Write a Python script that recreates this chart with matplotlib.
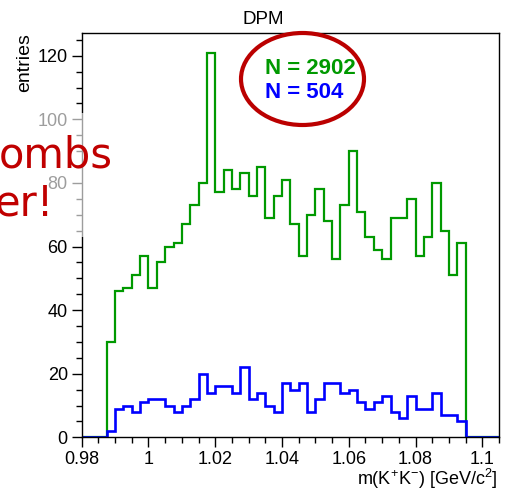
import numpy as np
import matplotlib
matplotlib.use("Agg")
import matplotlib.pyplot as plt
from matplotlib.patches import Ellipse, Rectangle

# ---- data ----
bin_lo = 0.98
bin_hi = 1.105
n_bins = 50
green_counts = [0, 0, 0, 30, 46, 47, 51, 57, 47, 55, 60, 61, 67, 73, 80, 121, 77, 84,
                78, 83, 76, 85, 69, 76, 81, 67, 57, 70, 78, 68, 56, 73, 90, 71, 63, 59,
                56, 69, 69, 75, 57, 63, 80, 65, 51, 61, 0, 0, 0, 0]
blue_counts = [0, 0, 0, 2, 9, 10, 8, 11, 12, 12, 10, 8, 10, 12, 20, 14, 16, 16,
               14, 22, 12, 14, 10, 8, 17, 15, 17, 8, 12, 17, 17, 14, 15, 11, 9, 11,
               13, 8, 6, 13, 9, 9, 14, 7, 7, 5, 0, 0, 0, 0]
x_ticks = [0.98, 1.0, 1.02, 1.04, 1.06, 1.08, 1.1]
x_tick_labels = ["0.98", "1", "1.02", "1.04", "1.06", "1.08", "1.1"]
y_ticks = [0, 20, 40, 60, 80, 100, 120]
title = "DPM"
x_label = r"m(K$^{+}$K$^{-}$) [GeV/c$^{2}$]"
y_label = "entries"
n_green_text = "N = 2902"
n_blue_text = "N = 504"

plt.rcParams['font.family'] = ['Liberation Sans', 'DejaVu Sans']
plt.rcParams['mathtext.fontset'] = 'custom'
plt.rcParams['mathtext.rm'] = 'Liberation Sans'
plt.rcParams['mathtext.default'] = 'regular'

W, H = 512, 491
fig = plt.figure(figsize=(W / 100, H / 100), dpi=100)
L, R, T, B = 81.7, 499.0, 33.3, 437.3
ax = fig.add_axes([L / W, 1 - B / H, (R - L) / W, (B - T) / H])

edges = np.linspace(bin_lo, bin_hi, n_bins + 1)
ax.stairs(green_counts, edges, color='#009900', linewidth=1.6, baseline=0)
ax.stairs(blue_counts, edges, color='#0000ff', linewidth=1.9, baseline=0)

ax.set_xlim(bin_lo, bin_hi)
ax.set_ylim(0, max(green_counts) * 1.05)
ax.set_xticks(x_ticks)
ax.set_xticklabels(x_tick_labels)
ax.set_yticks(y_ticks)
ax.set_xticks(np.arange(0.98, 1.1051, 0.005), minor=True)
ax.set_yticks(np.arange(0, 127, 5), minor=True)
ax.tick_params(axis='both', which='major', length=7, width=1.0, labelsize=13, direction='out', pad=3)
ax.tick_params(axis='both', which='minor', length=4, width=1.0, direction='out')
for s in ax.spines.values():
    s.set_linewidth(1.0)

fig.text(498 / W, 1 - 485 / H, x_label, fontsize=13, ha='right', va='baseline')
ax.set_ylabel(y_label, fontsize=14, loc='top', labelpad=3)

fig.text(263 / W, 1 - 20 / H, title, ha='center', va='center', fontsize=13.5)

# annotation
fig.text(265 / W, 1 - 68 / H, n_green_text, color='#009900', fontweight='bold',
         fontsize=16, ha='left', va='center')
fig.text(265 / W, 1 - 92 / H, n_blue_text, color='#0000ff', fontweight='bold',
         fontsize=16, ha='left', va='center')
ell = Ellipse((302.5 / W, 1 - 79 / H), 123 / W, 92 / H, transform=fig.transFigure,
              fill=False, edgecolor='#bb0000', linewidth=3.0, zorder=10)
fig.patches.append(ell)

# semi-transparent overlay with red slide text
rect = Rectangle((0, 1 - 237 / H), 118 / W, 124 / H, transform=fig.transFigure,
                 facecolor='white', edgecolor='none', alpha=0.62, zorder=5)
fig.patches.append(rect)
fig.text(113 / W, 1 - 167 / H, "ombs", color='#c00000', fontsize=30,
         family='DejaVu Sans', ha='right', va='baseline', zorder=11)
fig.text(54 / W, 1 - 215 / H, "er!", color='#c00000', fontsize=30,
         family='DejaVu Sans', ha='right', va='baseline', zorder=11)

fig.savefig("out.png", dpi=100)
